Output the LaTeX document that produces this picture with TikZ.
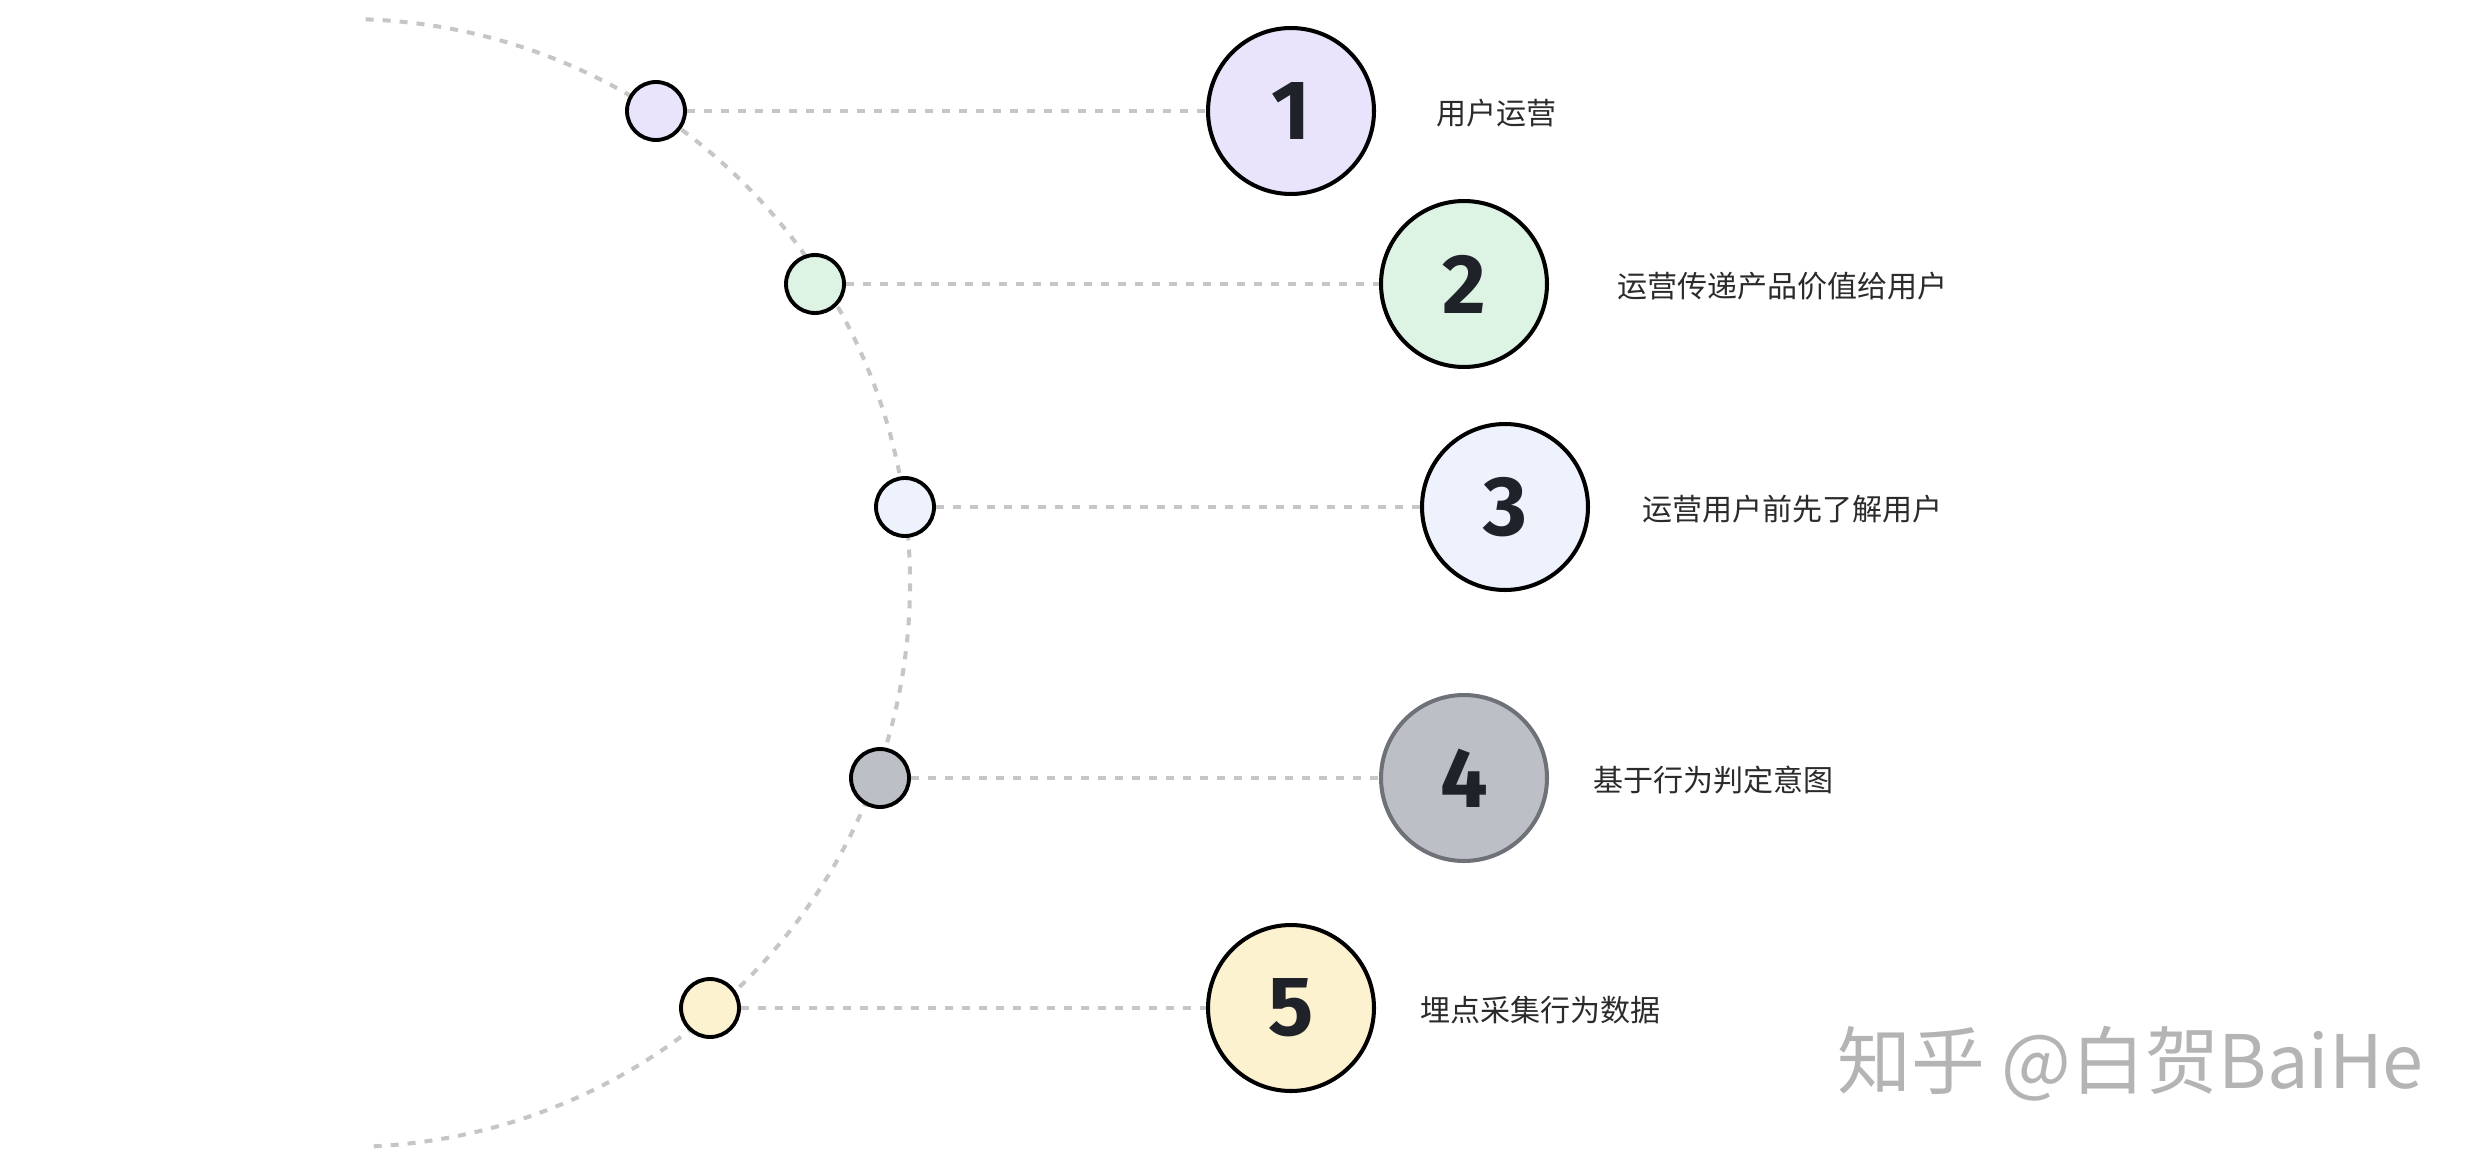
\documentclass[tikz,border=0pt]{standalone}
\usepackage{fontspec}
\setmainfont{Noto Sans}
\newfontfamily\cjk{Noto Sans CJK SC}
\newfontfamily\numfont{Fira Sans}
\definecolor{dashcol}{HTML}{C6C6C6}
\definecolor{numcol}{HTML}{1F2329}
\definecolor{labcol}{HTML}{2B2B2B}
\definecolor{wmcol}{HTML}{B4B4B4}
\definecolor{cA}{HTML}{E9E3FC}
\definecolor{cB}{HTML}{DDF4E4}
\definecolor{cC}{HTML}{EEF2FC}
\definecolor{cD}{HTML}{BCBFC6}
\definecolor{cDb}{HTML}{6E7178}
\definecolor{cE}{HTML}{FDF2CF}
\begin{document}
\begin{tikzpicture}[x=0.02cm,y=-0.02cm,
  bigc/.style={circle,draw=black,line width=2.3pt,minimum size=3.32cm,inner sep=0pt,
    font=\numfont\bfseries\fontsize{48}{48}\selectfont,text=numcol},
  smallc/.style={circle,draw=black,line width=2.2pt,minimum size=1.16cm,inner sep=0pt},
  conn/.style={draw=dashcol,line width=2.3pt,dash pattern=on 0.16cm off 0.18cm},
  lab/.style={anchor=west,inner sep=0pt,text=labcol,font=\cjk\fontsize{17.1}{18}\selectfont}]
\useasboundingbox (0,0) rectangle (2490,1166);
% big dashed arc
\coordinate (ctr) at (346,583);
\draw[conn] (ctr) ++(-88:564) arc[start angle=-88,end angle=88,radius=564];
% small circles
\node[smallc,fill=cA] (s1) at (656,111) {};
\node[smallc,fill=cB] (s2) at (815,284) {};
\node[smallc,fill=cC] (s3) at (905,507) {};
\node[smallc,fill=cD] (s4) at (880,778) {};
\node[smallc,fill=cE] (s5) at (710,1008) {};
% big circles
\node[bigc,fill=cA] (b1) at (1291,111) {1};
\node[bigc,fill=cB] (b2) at (1464,284) {2};
\node[bigc,fill=cC] (b3) at (1505,507) {3};
\node[bigc,fill=cD,draw=cDb] (b4) at (1464,778) {4};
\node[bigc,fill=cE] (b5) at (1291,1008) {5};
% connectors
\foreach \i in {1,...,5}{\draw[conn] (s\i) -- (b\i);}
% labels
\node[lab] (t1) at (1436,113) {用户运营};
\node[lab] (t2) at (1617,286) {运营传递产品价值给用户};
\node[lab] (t3) at (1642,509) {运营用户前先了解用户};
\node[lab] (t4) at (1593,780) {基于行为判定意图};
\node[lab] (t5) at (1420,1010) {埋点采集行为数据};
% watermark
\node[anchor=west,inner sep=0pt,text=wmcol,font=\cjk\fontsize{42}{44}\selectfont] (wm) at (1837,1064) {知乎 @白贺BaiHe};
\end{tikzpicture}
\end{document}
